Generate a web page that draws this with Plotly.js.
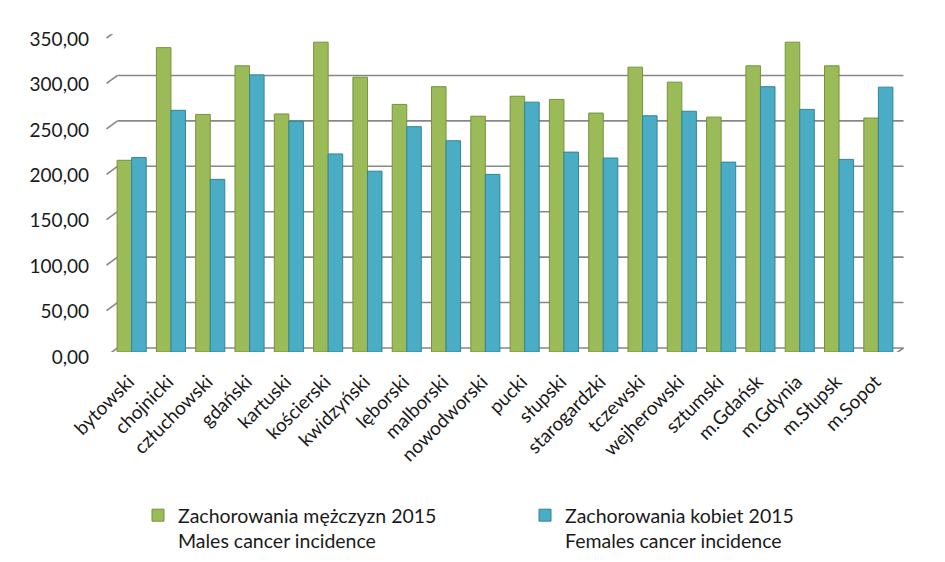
<!DOCTYPE html>
<html>
<head>
<meta charset="utf-8">
<script src="https://cdn.plot.ly/plotly-3.0.1.min.js"></script>
<style>
  html, body { margin: 0; padding: 0; background: #fff; }
  #chart { width: 945px; height: 562px; }
</style>
</head>
<body>
<div id="chart"></div>
<script>
// Powiaty (districts) of Pomorskie
const districts = ['bytowski', 'chojnicki', 'człuchowski', 'gdański', 'kartuski', 'kościerski', 'kwidzyński', 'lęborski', 'malborski', 'nowodworski',
    'pucki', 'słupski', 'starogardzki', 'tczewski', 'wejherowski', 'sztumski', 'm.Gdańsk', 'm.Gdynia', 'm.Słupsk', 'm.Sopot'];

// Cancer incidence 2015
const males = [211, 335, 261.5, 315, 262, 341, 302.5, 272.5, 292, 259.5, 281.5, 278, 263, 313.5, 297, 258.5, 315, 341, 315, 257.5];
const females = [214, 266, 190, 305, 254, 218, 199, 248, 232.5, 195.5, 275, 220, 213.5, 260, 265, 209, 292, 267, 212, 291.5];

const yTicks = [0, 50, 100, 150, 200, 250, 300, 350];

const seriesNames = [
    'Zachorowania mężczyzn 2015<br>Males cancer incidence',
    'Zachorowania kobiet 2015<br>Females cancer incidence'
];

const gridColor = '#878787';
const textFont = 'Lato, "Open Sans", sans-serif';

// back wall gridlines and the little diagonal stubs on the left edge
const shapes = [];
yTicks.forEach(v => {
    shapes.push({
        type: 'line', xref: 'paper', yref: 'y',
        xsizemode: 'pixel', xanchor: 0, x0: 5.5, x1: 791.5,
        ysizemode: 'pixel', yanchor: v, y0: 4, y1: 4,
        line: { color: gridColor, width: 1.6 }, layer: 'below'
    });
    shapes.push({
        type: 'line', xref: 'paper', yref: 'y',
        xsizemode: 'pixel', xanchor: 0, x0: -5.5, x1: 5.5,
        ysizemode: 'pixel', yanchor: v, y0: -4, y1: 4,
        line: { color: gridColor, width: 1.6 }, layer: 'below'
    });
});
// floor front edge + right corner
shapes.push({
    type: 'line', xref: 'paper', yref: 'y',
    xsizemode: 'pixel', xanchor: 0, x0: -5.5, x1: 780,
    ysizemode: 'pixel', yanchor: 0, y0: -4, y1: -4,
    line: { color: gridColor, width: 1.6 }, layer: 'below'
});
shapes.push({
    type: 'line', xref: 'paper', yref: 'y',
    xsizemode: 'pixel', xanchor: 0, x0: 780, x1: 791.5,
    ysizemode: 'pixel', yanchor: 0, y0: -4, y1: 4,
    line: { color: gridColor, width: 1.6 }, layer: 'below'
});

const data = [
    {
        type: 'bar',
        name: seriesNames[0],
        x: districts,
        y: males,
        marker: { color: '#9BBB59', line: { color: '#76923C', width: 1 } },
        hoverinfo: 'x+y'
    },
    {
        type: 'bar',
        name: seriesNames[1],
        x: districts,
        y: females,
        marker: { color: '#4BACC6', line: { color: '#31859C', width: 1 } },
        hoverinfo: 'x+y'
    }
];

const layout = {
    width: 945,
    height: 562,
    margin: { l: 112, r: 47, t: 34, b: 210 },
    paper_bgcolor: '#fff',
    plot_bgcolor: 'rgba(0,0,0,0)',
    separators: ', ',
    font: { family: textFont, size: 19, color: '#1a1a1a' },
    barmode: 'group',
    bargap: 0.26,
    bargroupgap: 0,
    xaxis: {
        type: 'category',
        showgrid: false,
        zeroline: false,
        showline: false,
        ticks: '',
        tickangle: -45,
        ticklabelstandoff: 14,
        ticklabelshift: -3,
        tickfont: { family: textFont, size: 19, color: '#1a1a1a' }
    },
    yaxis: {
        range: [0, 350],
        tickvals: yTicks,
        tickformat: '.2f',
        showgrid: false,
        zeroline: false,
        showline: false,
        ticks: '',
        ticklabelstandoff: 22,
        ticklabelshift: 5,
        tickfont: { family: textFont, size: 19, color: '#1a1a1a' }
    },
    shapes: shapes,
    showlegend: true,
    legend: {
        orientation: 'h',
        xref: 'container',
        yref: 'container',
        x: 138 / 945,
        y: 1 - 496 / 562,
        xanchor: 'left',
        yanchor: 'top',
        entrywidth: 342,
        entrywidthmode: 'pixels',
        itemwidth: 30,
        valign: 'top',
        font: { family: textFont, size: 19.5, color: '#1a1a1a' },
        bgcolor: 'rgba(0,0,0,0)'
    }
};

Plotly.newPlot('chart', data, layout, { displayModeBar: false, responsive: false });
</script>
</body>
</html>
